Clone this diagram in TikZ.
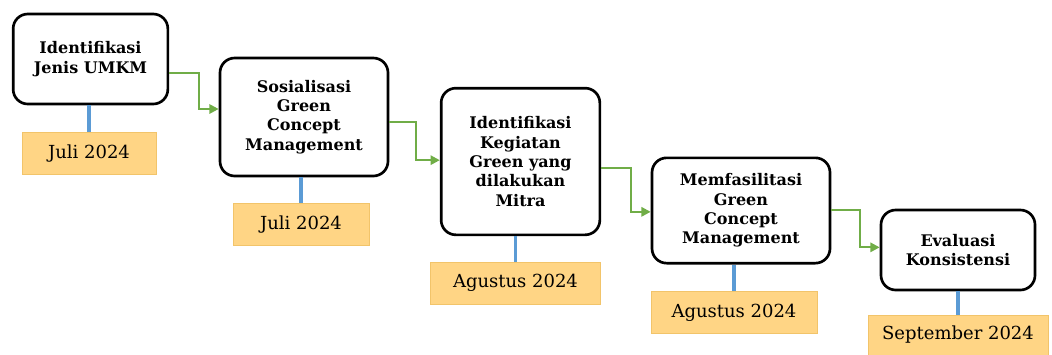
\documentclass[tikz,border=0pt]{standalone}
\usepackage{fontspec}
\setmainfont{DejaVu Serif}
\usetikzlibrary{arrows.meta}
\definecolor{datefill}{HTML}{FFD585}
\definecolor{dateline}{HTML}{F2C46A}
\definecolor{linkblue}{HTML}{5B9BD5}
\definecolor{flowgreen}{HTML}{70AD47}
\begin{document}
\begin{tikzpicture}[
            x=0.75pt, y=-0.75pt,
            task/.style={draw, line width=2pt, rounded corners=11pt, fill=white, align=center,
              font=\fontsize{12}{14.5}\selectfont\bfseries},
            datebox/.style={draw=dateline, fill=datefill, line width=0.6pt,
              font=\fontsize{13.5}{15}\selectfont},
            link/.style={draw=linkblue, line width=2.8pt},
            flow/.style={draw=flowgreen, line width=1.6pt, -{Triangle[length=7pt, width=7pt]}},
            ]
            \useasboundingbox (0,0) rectangle (1052,354);
            % steps
            \node[task, minimum width=116pt, minimum height=67.5pt] (s1) at (90.5,59) {Identifikasi\\Jenis UMKM};
            \node[task, minimum width=126pt, minimum height=88.5pt] (s2) at (304,117) {Sosialisasi\\Green\\Concept\\Management};
            \node[task, minimum width=119pt, minimum height=110pt] (s3) at (520.5,161.5) {Identifikasi\\Kegiatan\\Green yang\\dilakukan\\Mitra};
            \node[task, minimum width=133.5pt, minimum height=79pt] (s4) at (741,210.5) {Memfasilitasi\\Green\\Concept\\Management};
            \node[task, minimum width=115.5pt, minimum height=60pt] (s5) at (958,250) {Evaluasi\\Konsistensi};
            % dates
            \node[datebox, minimum width=100.5pt, minimum height=32pt] (d1) at (89,153.5) {Juli 2024};
            \node[datebox, minimum width=102pt, minimum height=32pt] (d2) at (301,224.5) {Juli 2024};
            \node[datebox, minimum width=128pt, minimum height=31.5pt] (d3) at (515.5,283) {Agustus 2024};
            \node[datebox, minimum width=124.5pt, minimum height=31pt] (d4) at (734,312.5) {Agustus 2024};
            \node[datebox, minimum width=135pt, minimum height=30pt] (d5) at (958,335) {September 2024};
            % links
            \draw[link] (d1.north) -- (d1.north |- s1.south);
            \draw[link] (d2.north) -- (d2.north |- s2.south);
            \draw[link] (d3.north) -- (d3.north |- s3.south);
            \draw[link] (d4.north) -- (d4.north |- s4.south);
            \draw[link] (d5.north) -- (d5.north |- s5.south);
            % flow
            \draw[flow] ([yshift=-10.5pt]s1.east) -- ++(30,0) |- ([yshift=6pt]s2.west);
            \draw[flow] ([yshift=-3.75pt]s2.east) -- ++(27,0) |- ([yshift=1pt]s3.west);
            \draw[flow] ([yshift=-5pt]s3.east) -- ++(30,0) |- ([yshift=-1pt]s4.west);
            \draw[flow] ([yshift=0.5pt]s4.east) -- ++(29,0) |- ([yshift=2pt]s5.west);
\end{tikzpicture}
\end{document}
